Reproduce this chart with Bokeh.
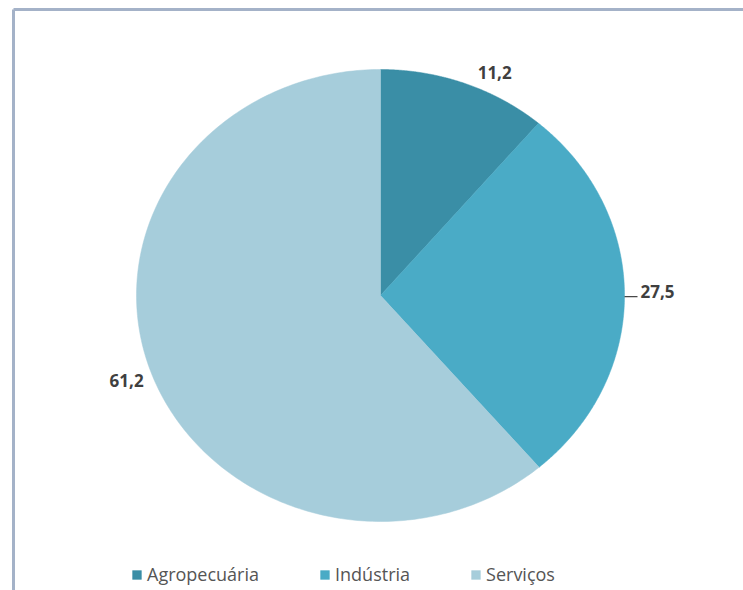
import numpy as np
from bokeh.plotting import figure
from bokeh.models import ColumnDataSource, Range1d, Legend, LegendItem
from bokeh.embed import file_html
from bokeh.resources import INLINE
from bokeh.core.properties import value

# ---- data ----
categories = ["Agropecuária", "Indústria", "Serviços"]
shares = [11.2, 27.5, 61.2]
share_labels = ["11,2", "27,5", "61,2"]

# ---- style ----
colors = ["#3a8ea6", "#4aabc6", "#a6cddb"]

W, H = 743, 590
CX, CY, RX, RY = 380, 295, 244, 226  # pie centre / radii in figure pixels


def X(px):
    return (px - CX) / RX


def Y(py):
    return (CY - py) / RY


p = figure(width=W, height=H,
           x_range=Range1d(X(0), X(W)), y_range=Range1d(Y(H), Y(0)),
           x_axis_location=None, y_axis_location=None,
           output_backend="svg", toolbar_location=None, min_border=0)
p.grid.visible = False
p.outline_line_color = None
p.background_fill_color = "#ffffff"
p.border_fill_color = "#ffffff"

# frame decoration (left and top edges of the embedded chart box)
p.segment(x0=[X(13), X(13)], y0=[Y(9), Y(9)], x1=[X(13), X(W + 5)], y1=[Y(H + 5), Y(9)],
          line_color="#a4b2c8", line_width=3)

# ---- pie slices ----
vals = np.array(shares, dtype=float)
frac = vals / vals.sum()
ends = np.pi / 2 - 2 * np.pi * np.cumsum(frac)
starts = ends + 2 * np.pi * frac
mids = (starts + ends) / 2

xs, ys = [], []
for s, e in zip(starts, ends):
    t = np.linspace(s, e, 240)
    xs.append(np.concatenate([[0.0], np.cos(t)]))
    ys.append(np.concatenate([[0.0], np.sin(t)]))

src = ColumnDataSource(dict(xs=xs, ys=ys, cat=categories, color=colors))
r = p.patches("xs", "ys", source=src, fill_color="color", line_color="color",
              line_width=0.5)

# ---- data labels ----
offsets = [(30, -11), (33, -4), (-25, 7)]  # px nudges from slice edge
lx, ly = [], []
for m, (dx, dy) in zip(mids, offsets):
    bx = CX + RX * np.cos(m)
    by = CY - RY * np.sin(m)
    lx.append(X(bx + dx))
    ly.append(Y(by + dy))
lsrc = ColumnDataSource(dict(x=lx, y=ly, t=share_labels))
p.text(x="x", y="y", text="t", source=lsrc, text_align="center",
       text_baseline="middle", text_font=value("Open Sans"),
       text_font_style="bold", text_font_size="17px", text_color="#3f3f3f")

# leader line for the Indústria label
m = mids[1]
p.segment(x0=[np.cos(m)], y0=[np.sin(m) - 1.5 / RY],
          x1=[np.cos(m) + 13 / RX], y1=[np.sin(m) - 1.5 / RY],
          line_color="#3f3f3f", line_width=1.2)

# ---- legend ----
legend = Legend(items=[LegendItem(label=c, renderers=[r], index=i)
                       for i, c in enumerate(categories)],
                orientation="horizontal", location=(131, 4),
                glyph_width=11, glyph_height=11, label_standoff=5, spacing=60,
                padding=0, margin=0, border_line_color=None,
                background_fill_alpha=0,
                label_text_font="Open Sans", label_text_font_size="18px",
                label_text_color="#555555")
p.add_layout(legend)

open("out.html", "w").write(file_html(p, INLINE))
